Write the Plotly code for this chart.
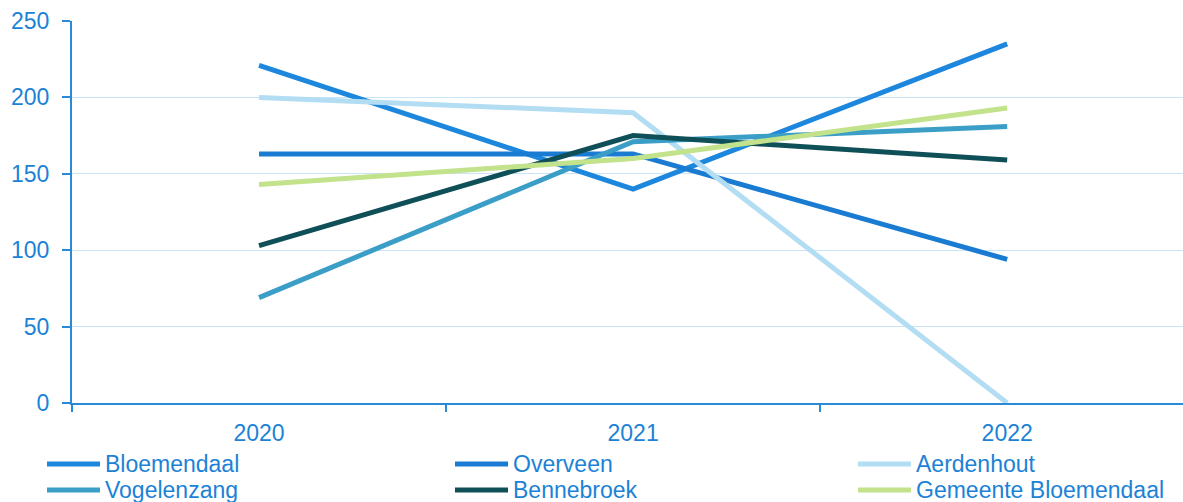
import plotly.graph_objects as go

# Jaren op de x-as
years = ["2020", "2021", "2022"]

# Waarden per kern
bloemendaal = [221, 140, 235]
overveen = [163, 163, 94]
aerdenhout = [200, 190, 0]
vogelenzang = [69, 171, 181]
bennebroek = [103, 175, 159]
gemeente_bloemendaal = [143, 160, 193]

series_names = ["Bloemendaal", "Overveen", "Aerdenhout",
                "Vogelenzang", "Bennebroek", "Gemeente Bloemendaal"]
series_values = [bloemendaal, overveen, aerdenhout,
                 vogelenzang, bennebroek, gemeente_bloemendaal]
series_colors = ["#1c87dc", "#1a7bd2", "#b3ddf3",
                 "#3a9ec6", "#0f4f57", "#c2e28c"]

y_ticks = [0, 50, 100, 150, 200, 250]

TEXT_BLUE = "#1c82d6"
AXIS_BLUE = "#2a8ad8"
FONT = "Liberation Sans, Arial, sans-serif"

W, H = 1183, 502
M_L, M_R, M_T, M_B = 72, 0, 21, 99
PLOT_W = W - M_L - M_R
PLOT_H = H - M_T - M_B

fig = go.Figure()
for name, vals, col in zip(series_names, series_values, series_colors):
    fig.add_trace(go.Scatter(
        x=years, y=vals, name=name, mode="lines",
        line=dict(color=col, width=5),
        showlegend=False, hoverinfo="x+y+name",
    ))


def px_x(px):
    return (px - M_L) / PLOT_W


def px_y(py):
    return (H - M_B - py) / PLOT_H


# Legenda: drie kolommen, twee rijen
col_x = [47, 455, 858]
row_y = [464, 490]
line_len = 53
for i, (name, col) in enumerate(zip(series_names, series_colors)):
    c = i % 3
    r = i // 3
    x0 = col_x[c]
    y0 = row_y[r]
    fig.add_shape(type="line", xref="paper", yref="paper",
                  x0=px_x(x0), x1=px_x(x0 + line_len),
                  y0=px_y(y0), y1=px_y(y0),
                  line=dict(color=col, width=5))
    fig.add_annotation(xref="paper", yref="paper",
                       x=px_x(x0 + line_len + 3), y=px_y(y0),
                       xanchor="left", yanchor="middle", showarrow=False,
                       text=name, font=dict(family=FONT, size=23, color=TEXT_BLUE))

fig.update_layout(
    width=W, height=H,
    margin=dict(l=M_L, r=M_R, t=M_T, b=M_B, pad=0),
    paper_bgcolor="white", plot_bgcolor="white",
    font=dict(family=FONT, size=23, color=TEXT_BLUE),
    showlegend=False,
)
fig.update_xaxes(
    type="category", range=[-0.5, 2.47],
    showline=True, linecolor=AXIS_BLUE, linewidth=2,
    ticks="outside", tickson="boundaries", ticklen=7, tickcolor=AXIS_BLUE, tickwidth=1.5,
    showgrid=False, zeroline=False,
    tickfont=dict(family=FONT, size=23, color=TEXT_BLUE),
    ticklabelstandoff=8,
)
fig.update_yaxes(
    range=[0, 250], tickvals=y_ticks,
    showline=True, linecolor=AXIS_BLUE, linewidth=2,
    ticks="outside", ticklen=8, tickcolor=AXIS_BLUE, tickwidth=1.5,
    showgrid=True, gridcolor="#c9e5f7", gridwidth=1,
    zeroline=False,
    tickfont=dict(family=FONT, size=23, color=TEXT_BLUE),
    ticklabelstandoff=8,
)

fig.write_html("out.html")
